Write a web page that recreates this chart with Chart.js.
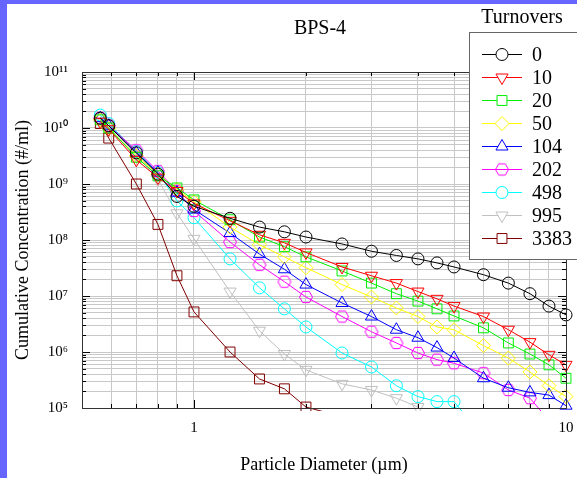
<!DOCTYPE html>
<html>
<head>
<meta charset="utf-8">
<script src="https://cdn.jsdelivr.net/npm/chart.js@4.4.0/dist/chart.umd.min.js"></script>
<style>
  html, body { margin: 0; padding: 0; background: #fff; }
  canvas { display: block; }
</style>
</head>
<body>
<canvas id="chart" width="577" height="478"></canvas>
<script>
// Particle diameters (um) shared by all runs
const diameters = [0.56, 0.59, 0.7, 0.8, 0.9, 1, 1.25, 1.5, 1.75, 2, 2.5, 3, 3.5, 4, 4.5, 5, 6, 7, 8, 9, 10];

// Cumulative concentration (#/ml) per turnover count
const t0    = [1.5e10, 1.1e10, 3.6e9, 1.5e9, 6.0e8, 4.0e8, 2.44e8, 1.7e8, 1.4e8, 1.13e8, 8.5e7, 6.3e7, 5.3e7, 4.6e7, 3.9e7, 3.3e7, 2.4e7, 1.7e7, 1.1e7, 6.6e6, 4.6e6];
const t10   = [1.3e10, 9.5e9, 2.7e9, 1.3e9, 7.5e8, 4.5e8, 2.2e8, 1.24e8, 8.9e7, 6.0e7, 3.3e7, 2.3e7, 1.7e7, 1.2e7, 8.9e6, 6.6e6, 4.3e6, 2.5e6, 1.5e6, 8.9e5, 5.9e5];
const t20   = [1.4e10, 1.0e10, 3.0e9, 1.4e9, 8.5e8, 5.2e8, 2.3e8, 1.13e8, 7.6e7, 5.0e7, 2.8e7, 1.7e7, 1.1e7, 8.1e6, 5.9e6, 4.4e6, 2.7e6, 1.45e6, 9.2e5, 5.9e5, 3.4e5];
const t50   = [1.4e10, 9.8e9, 3.2e9, 1.5e9, 8.0e8, 4.8e8, 1.7e8, 8.2e7, 5.0e7, 3.2e7, 1.6e7, 9.6e6, 6.1e6, 4.3e6, 2.8e6, 2.5e6, 1.3e6, 7.8e5, 4.4e5, 2.5e5, 1.6e5];
const t104  = [1.5e10, 1.1e10, 3.6e9, 1.6e9, 7.0e8, 3.5e8, 1.33e8, 5.6e7, 3.0e7, 1.6e7, 7.5e6, 4.3e6, 2.5e6, 1.8e6, 1.2e6, 7.8e5, 3.4e5, 2.3e5, 1.9e5, 1.7e5, 1.1e5];
const t202  = [1.5e10, 1.1e10, 4.0e9, 1.7e9, 7.5e8, 3.3e8, 9.2e7, 3.6e7, 1.8e7, 9.6e6, 4.3e6, 2.3e6, 1.45e6, 9.6e5, 7.3e5, 6.3e5, 4.2e5, 2.1e5, 1.5e5, 6.0e4, null];
const t498  = [1.7e10, 1.2e10, 3.8e9, 1.6e9, 5.0e8, 2.5e8, 4.6e7, 1.4e7, 5.9e6, 2.8e6, 9.6e5, 5.4e5, 2.5e5, 1.6e5, 1.3e5, 1.3e5, 3.0e4, null, null, null, null];
const t995  = [1.6e10, 1.1e10, 3.3e9, 1.2e9, 3.0e8, 1.05e8, 1.2e7, 2.4e6, 9.2e5, 4.8e5, 2.7e5, 2.1e5, 1.5e5, 1.04e5, null, null, null, null, null, null, null];
const t3383 = [1.2e10, 6.6e9, 1.0e9, 1.9e8, 2.3e7, 5.2e6, 1.0e6, 3.3e5, 2.2e5, 1.04e5, 7.0e4, null, null, null, null, null, null, null, null, null, null];

const seriesLabels = ['0', '10', '20', '50', '104', '202', '498', '995', '3383'];
const seriesValues = [t0, t10, t20, t50, t104, t202, t498, t995, t3383];

const serif = '"Liberation Serif", "Times New Roman", serif';
const supDigits = { '-': '⁻', '0': '⁰', '1': '¹', '2': '²', '3': '³', '4': '⁴', '5': '⁵', '6': '⁶', '7': '⁷', '8': '⁸', '9': '⁹' };

// open hexagon marker, chart.js has none
function hexagon(color, r) {
  const c = document.createElement('canvas');
  const s = 2 * r + 3;
  c.width = s; c.height = s;
  const g = c.getContext('2d');
  g.strokeStyle = color;
  g.lineWidth = 1;
  g.beginPath();
  for (let i = 0; i < 6; i++) {
    const a = i * Math.PI / 3;
    const px = s / 2 + r * Math.cos(a), py = s / 2 + r * Math.sin(a);
    if (i) g.lineTo(px, py); else g.moveTo(px, py);
  }
  g.closePath();
  g.stroke();
  return c;
}

const styles = [
  { color: '#000000', pointStyle: 'circle',   rotation: 0,   radius: 6 },
  { color: '#ff0000', pointStyle: 'triangle', rotation: 180, radius: 7 },
  { color: '#00ee00', pointStyle: 'rect',     rotation: 0,   radius: 7 },
  { color: '#ffff00', pointStyle: 'rectRot',  rotation: 0,   radius: 7 },
  { color: '#0000ff', pointStyle: 'triangle', rotation: 0,   radius: 7 },
  { color: '#ff00ff', pointStyle: hexagon('#ff00ff', 6.5), rotation: 0, radius: 6 },
  { color: '#00ffff', pointStyle: 'circle',   rotation: 0,   radius: 6 },
  { color: '#c0c0c0', pointStyle: 'triangle', rotation: 180, radius: 7 },
  { color: '#800000', pointStyle: 'rect',     rotation: 0,   radius: 7 }
];

const datasets = seriesValues.map((vals, i) => ({
  label: seriesLabels[i],
  data: vals.map((v, j) => ({ x: diameters[j], y: v })).filter(p => p.y !== null),
  borderColor: styles[i].color,
  backgroundColor: 'rgba(0,0,0,0)',
  borderWidth: 1,
  pointStyle: styles[i].pointStyle,
  pointRotation: styles[i].rotation,
  pointRadius: styles[i].radius,
  pointBorderWidth: 1,
  pointBackgroundColor: 'rgba(0,0,0,0)',
  pointBorderColor: styles[i].color,
  tension: 0,
  clip: { left: 8, right: 8, top: 8, bottom: 3 }
}));

function isDecade(v) {
  const l = Math.log10(v);
  return Math.abs(l - Math.round(l)) < 1e-9;
}

function decadeTicks(lo, hi, minV, maxV) {
  const t = [];
  for (let e = lo; e <= hi; e++) {
    for (let m = 1; m < 10; m++) {
      const v = m * Math.pow(10, e);
      if (v >= minV * (1 - 1e-9) && v <= maxV * (1 + 1e-9)) t.push({ value: v });
    }
  }
  return t;
}

// white page with the blue frame on the left and top
const pageFrame = {
  id: 'pageFrame',
  beforeDraw(chart) {
    const ctx = chart.ctx;
    ctx.save();
    ctx.fillStyle = '#ffffff';
    ctx.fillRect(0, 0, chart.width, chart.height);
    ctx.fillStyle = '#6666ff';
    ctx.fillRect(0, 0, 7, chart.height);
    ctx.fillRect(0, 0, chart.width, 4);
    ctx.fillStyle = '#000';
    ctx.font = '20px ' + serif;
    ctx.textAlign = 'center';
    ctx.textBaseline = 'middle';
    ctx.fillText('BPS-4', 320, 29);
    ctx.restore();
  }
};

// plot frame with inward ticks on all four sides
const frameTicks = {
  id: 'frameTicks',
  afterDatasetsDraw(chart) {
    const { ctx, chartArea: a, scales: { x, y } } = chart;
    ctx.save();
    ctx.strokeStyle = '#000';
    ctx.lineWidth = 1;
    ctx.beginPath();
    x.ticks.forEach(t => {
      const px = Math.round(x.getPixelForValue(t.value)) + 0.5;
      const len = isDecade(t.value) ? 8 : 4;
      ctx.moveTo(px, a.bottom); ctx.lineTo(px, a.bottom - len);
      ctx.moveTo(px, a.top); ctx.lineTo(px, a.top + len);
    });
    y.ticks.forEach(t => {
      const py = Math.round(y.getPixelForValue(t.value)) + 0.5;
      const len = isDecade(t.value) ? 8 : 4;
      ctx.moveTo(a.left, py); ctx.lineTo(a.left + len, py);
      ctx.moveTo(a.right, py); ctx.lineTo(a.right - len, py);
    });
    ctx.stroke();
    ctx.strokeStyle = '#333';
    ctx.strokeRect(Math.round(a.left) + 0.5, Math.round(a.top) + 0.5, Math.round(a.right - a.left), Math.round(a.bottom - a.top));
    ctx.restore();
  }
};

// legend box with line + marker samples
const legendBox = {
  id: 'legendBox',
  afterDraw(chart) {
    const ctx = chart.ctx;
    ctx.save();
    ctx.fillStyle = '#ffffff';
    ctx.fillRect(469, 32, 120, 227);
    ctx.strokeStyle = '#666';
    ctx.lineWidth = 1;
    ctx.strokeRect(469.5, 32.5, 120, 227);
    ctx.font = '20px ' + serif;
    ctx.textBaseline = 'middle';
    ctx.textAlign = 'center';
    ctx.fillStyle = '#000';
    ctx.fillText('Turnovers', 522, 18);
    ctx.textAlign = 'left';
    chart.data.datasets.forEach((ds, i) => {
      const yy = 54.5 + i * 23;
      ctx.strokeStyle = ds.borderColor;
      ctx.lineWidth = 1;
      ctx.beginPath();
      ctx.moveTo(482, yy);
      ctx.lineTo(522, yy);
      ctx.stroke();
      ctx.fillStyle = '#ffffff';
      Chart.helpers.drawPoint(ctx, {
        pointStyle: ds.pointStyle,
        rotation: ds.pointRotation,
        radius: ds.pointRadius,
        borderWidth: 1
      }, 502, yy);
      ctx.fillStyle = '#000';
      ctx.fillText(ds.label, 532, yy + 1);
    });
    ctx.restore();
  }
};

new Chart(document.getElementById('chart'), {
  type: 'line',
  data: { datasets },
  plugins: [pageFrame, frameTicks, legendBox],
  options: {
    responsive: false,
    animation: false,
    devicePixelRatio: 1,
    layout: { padding: { top: 72, right: 11, left: 0, bottom: 0 } },
    plugins: {
      legend: { display: false },
      tooltip: { enabled: false }
    },
    scales: {
      x: {
        type: 'logarithmic',
        min: 0.5,
        max: 10,
        afterFit(s) { s.height = 70; s.paddingLeft = 0; s.paddingRight = 0; },
        afterBuildTicks(s) { s.ticks = decadeTicks(-1, 1, 0.5, 10); },
        ticks: {
          autoSkip: false,
          maxRotation: 0,
          padding: 11,
          color: '#000',
          font: { family: serif, size: 15 },
          callback: v => isDecade(v) ? String(Math.round(v)) : ''
        },
        grid: { color: '#c8c8c8', drawTicks: false },
        border: { display: false },
        title: {
          display: true,
          text: 'Particle Diameter (µm)',
          color: '#000',
          font: { family: serif, size: 18 },
          padding: { top: 0, bottom: 2 }
        }
      },
      y: {
        type: 'logarithmic',
        min: 1e5,
        max: 1e11,
        afterFit(s) { s.width = 82; s.paddingTop = 0; s.paddingBottom = 0; },
        afterBuildTicks(s) { s.ticks = decadeTicks(5, 11, 1e5, 1e11); },
        ticks: {
          autoSkip: false,
          padding: 14,
          color: '#000',
          font: { family: serif, size: 15 },
          callback: v => {
            if (!isDecade(v)) return '';
            const e = String(Math.round(Math.log10(v)));
            return '10' + e.split('').map(c => supDigits[c]).join('');
          }
        },
        grid: { color: '#c8c8c8', drawTicks: false },
        border: { display: false },
        title: {
          display: true,
          text: 'Cumulative Concentration (#/ml)',
          color: '#000',
          font: { family: serif, size: 18 },
          padding: { top: 12, bottom: 0 }
        }
      }
    }
  }
});
</script>
</body>
</html>
